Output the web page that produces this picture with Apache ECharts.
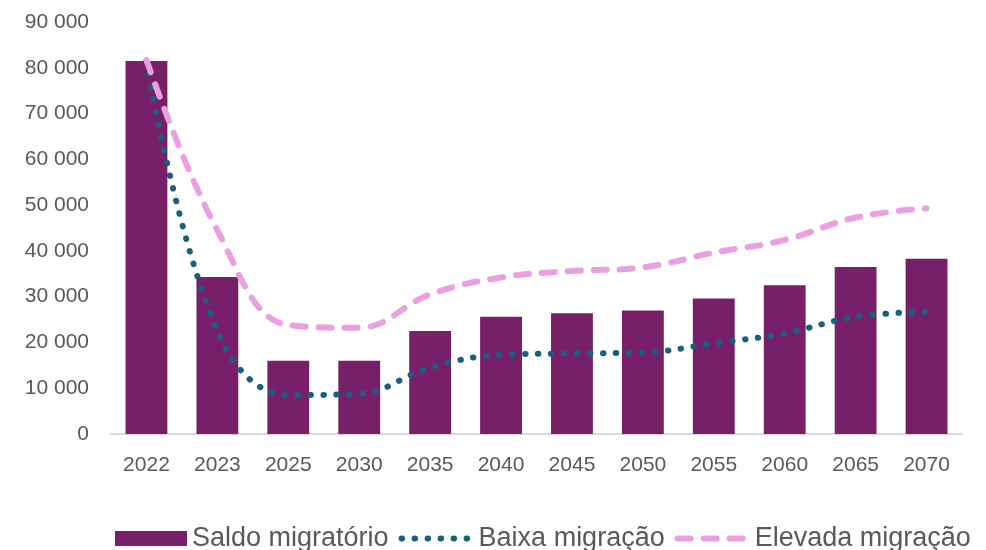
<!DOCTYPE html>
<html>
<head>
<meta charset="utf-8">
<script src="https://cdn.jsdelivr.net/npm/echarts@6/dist/echarts.min.js"></script>
<style>
  html, body { margin: 0; padding: 0; background: #fff; }
  #chart { width: 986px; height: 550px; }
</style>
</head>
<body>
<div id="chart"></div>
<script>
const years = ['2022', '2023', '2025', '2030', '2035', '2040', '2045', '2050', '2055', '2060', '2065', '2070']
const saldo = [81500, 34300, 16000, 16000, 22500, 25600, 26400, 27000, 29600, 32500, 36500, 38300]
const baixa = [81500, 22500, 8500, 8800, 14500, 17300, 17600, 17800, 19800, 22000, 25600, 26700]
const elevada = [81700, 44500, 23800, 23200, 30500, 34200, 35600, 36400, 39600, 42400, 47300, 49300]

const txt = '#595959'
const font = 'Liberation Sans'
const dotStyle = { color: '#1B5E7E', width: 6, type: [0.5, 12.5], cap: 'round' }
const dashStyle = { color: '#E8A0DE', width: 6, type: [13, 13], cap: 'round' }

function fmt(v) {
  return String(v).replace(/\B(?=(\d{3})+(?!\d))/g, ' ')
}

const chart = echarts.init(document.getElementById('chart'))
chart.setOption({
  animation: false,
  textStyle: { fontFamily: font },
  grid: {
    left: 111,
    right: 24,
    top: 22,
    bottom: 116
  },
  legend: {
    top: 520,
    left: 110,
    itemWidth: 72,
    itemHeight: 15,
    itemGap: 10,
    textStyle: { color: txt, fontSize: 27, fontFamily: font },
    data: [
      { name: 'Saldo migratório', icon: 'rect' },
      { name: 'Baixa migração', itemStyle: { opacity: 0 }, lineStyle: dotStyle },
      { name: 'Elevada migração', itemStyle: { opacity: 0 }, lineStyle: dashStyle }
    ]
  },
  xAxis: {
    type: 'category',
    data: years,
    axisLine: { lineStyle: { color: '#D9D9D9', width: 2 } },
    axisTick: { show: false },
    axisLabel: { color: txt, fontSize: 21, margin: 21 }
  },
  yAxis: {
    type: 'value',
    min: 0,
    max: 90000,
    interval: 10000,
    splitLine: { show: false },
    axisLine: { show: false },
    axisTick: { show: false },
    axisLabel: { color: txt, fontSize: 21, margin: 22, formatter: fmt }
  },
  series: [
    {
      name: 'Saldo migratório',
      type: 'bar',
      data: saldo,
      barWidth: '59%',
      itemStyle: { color: '#781F6A' }
    },
    {
      name: 'Baixa migração',
      type: 'line',
      data: baixa,
      smooth: 0.4,
      symbol: 'none',
      lineStyle: dotStyle,
      itemStyle: { color: '#1B5E7E' }
    },
    {
      name: 'Elevada migração',
      type: 'line',
      data: elevada,
      smooth: 0.4,
      symbol: 'none',
      lineStyle: dashStyle,
      itemStyle: { color: '#E8A0DE' }
    }
  ]
})
</script>
</body>
</html>
